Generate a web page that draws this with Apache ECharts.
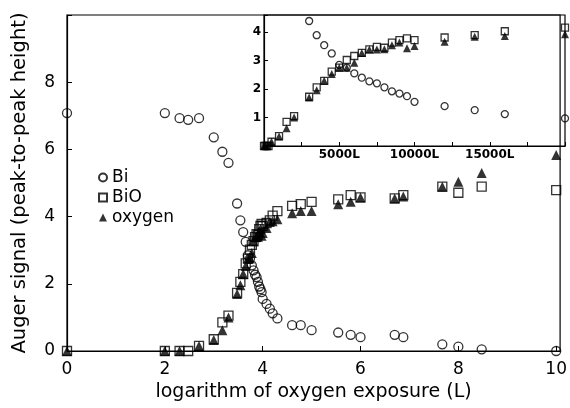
<!DOCTYPE html>
<html><head><meta charset="utf-8">
<script src="https://cdn.jsdelivr.net/npm/echarts@6/dist/echarts.min.js"></script>
<style>html,body{margin:0;padding:0;background:#fff}#c{width:570px;height:408px}</style>
</head><body><div id="c"></div>
<script>
// Oxygen exposure in Langmuir (main axis shows log10 of it)
const exposureL = [1,100,200,300,500,1000,1500,2000,3000,3500,4000,4500,5000,5500,6000,6500,7000,7500,8000,8500,9000,9500,10000,12000,14000,16000,20000,40000,60000,1e5,3.5e5,6.3e5,1e6,5e6,7.5e6,4.7e7,1e8,3e8,1e10];
const bi = [7.08,7.08,6.93,6.88,6.93,6.36,5.93,5.6,4.39,3.89,3.54,3.25,2.85,2.75,2.55,2.40,2.27,2.20,2.06,1.92,1.84,1.75,1.55,1.40,1.26,1.12,0.97,0.77,0.77,0.62,0.55,0.48,0.41,0.48,0.41,0.20,0.13,0.05,0];
const bio = [0,0,0,0,0.15,0.35,0.85,1.05,1.73,2.06,2.29,2.61,2.75,3.02,3.16,3.27,3.39,3.48,3.45,3.63,3.72,3.78,3.72,3.81,3.89,4.03,4.16,4.32,4.37,4.44,4.51,4.64,4.57,4.54,4.64,4.89,4.71,4.89,4.79];
const oxygen = [0,0,0,null,0.15,0.33,0.62,1.0,1.70,1.96,2.29,2.53,2.75,2.75,2.92,3.27,3.39,3.39,3.40,3.54,3.63,3.43,3.51,3.66,3.84,3.86,3.92,4.10,4.17,4.17,4.37,4.44,4.57,4.54,4.60,4.89,5.04,5.30,5.83];
const seriesNames = ['Bi','BiO','oxygen'];
const mainXTickLabels = [0,2,4,6,8,10];
const mainYTickLabels = [0,2,4,6,8];
const insetXTickLabels = [5000,10000,15000];
const insetYTickLabels = [1,2,3,4];
const insetXMax = 20000, insetYMax = 4.6;

const FONT = 'DejaVu Sans';
const pairs = v => exposureL.map((x,i)=>[x, v[i]]).filter(p=>p[1]!=null);
const insetPairs = v => pairs(v).filter(p=>p[0]<=insetXMax && p[1]<=insetYMax);
const styles = {
  Bi: {symbol:'circle', itemStyle:{color:'rgba(0,0,0,0)', borderColor:'#000', borderWidth:1.3}},
  BiO:{symbol:'rect', itemStyle:{color:'rgba(0,0,0,0)', borderColor:'#000', borderWidth:1.3}},
  oxygen:{symbol:'triangle', itemStyle:{color:'#000', borderWidth:0}}
};
const vals = {Bi:bi, BiO:bio, oxygen:oxygen};
const series = [];
seriesNames.forEach(n=>{
  series.push(Object.assign({type:'scatter', name:n, xAxisIndex:0, yAxisIndex:0, data:pairs(vals[n]), symbolSize: n==='oxygen'?10:9, z: n==='oxygen'?3:2}, styles[n]));
});
seriesNames.forEach(n=>{
  series.push(Object.assign({type:'scatter', name:n, xAxisIndex:1, yAxisIndex:1, data:insetPairs(vals[n]), symbolSize: n==='oxygen'?8:7, z: n==='oxygen'?3:2}, styles[n]));
});
const axLine = {show:true, onZero:false, lineStyle:{color:'#000', width:1.2}};
const chart = echarts.init(document.getElementById('c'), null, {renderer:'canvas'});
chart.setOption({
  animation:false,
  backgroundColor:'#fff',
  legend:{orient:'vertical', left:93, top:163, itemWidth:8, itemHeight:8, itemGap:1,
    data:seriesNames, textStyle:{fontFamily:FONT, fontSize:17, color:'#000', lineHeight:19}},
  grid:[
    {left:67, right:6, top:15, bottom:57, show:true, borderColor:'#000', borderWidth:1.2},
    {left:264, right:5, top:15, bottom:262, show:true, borderColor:'#000', borderWidth:1.2}
  ],
  xAxis:[
    {type:'log', logBase:10, gridIndex:0, min:1, max:Math.pow(10,10.08), interval:2,
     axisLine:axLine, axisTick:{inside:true, length:5, lineStyle:{color:'#000'}}, splitLine:{show:false},
     axisLabel:{fontFamily:FONT, fontSize:17, color:'#000', margin:10, showMaxLabel:false,
       formatter:v=>{const l=Math.log10(v), r=Math.round(l); return (Math.abs(l-r)<1e-6 && mainXTickLabels.includes(r))?String(r):'';}},
     name:'logarithm of oxygen exposure (L)', nameLocation:'middle', nameGap:32,
     nameTextStyle:{fontFamily:FONT, fontSize:19, color:'#000'}},
    {type:'value', gridIndex:1, min:0, max:insetXMax, interval:2500,
     axisLine:axLine, axisTick:{inside:true, length:4, lineStyle:{color:'#000'}}, splitLine:{show:false},
     axisLabel:{fontFamily:FONT, fontSize:12, fontWeight:'bold', color:'#000', margin:3,
       formatter:v=>insetXTickLabels.includes(v)?v+'L':''}}
  ],
  yAxis:[
    {type:'value', gridIndex:0, min:0, max:10, interval:2,
     axisLine:axLine, axisTick:{inside:true, length:5, lineStyle:{color:'#000'}}, splitLine:{show:false},
     axisLabel:{fontFamily:FONT, fontSize:17, color:'#000', margin:12,
       formatter:v=>mainYTickLabels.includes(v)?String(v):''},
     name:'Auger signal (peak-to-peak height)', nameLocation:'middle', nameGap:37,
     nameTextStyle:{fontFamily:FONT, fontSize:19.5, color:'#000'}},
    {type:'value', gridIndex:1, min:0, max:insetYMax, interval:1,
     axisLine:axLine, axisTick:{inside:true, length:4, lineStyle:{color:'#000'}}, splitLine:{show:false},
     axisLabel:{fontFamily:FONT, fontSize:12, fontWeight:'bold', color:'#000', margin:3,
       formatter:v=>insetYTickLabels.includes(v)?String(v):''}}
  ],
  series:series
});
</script></body></html>
